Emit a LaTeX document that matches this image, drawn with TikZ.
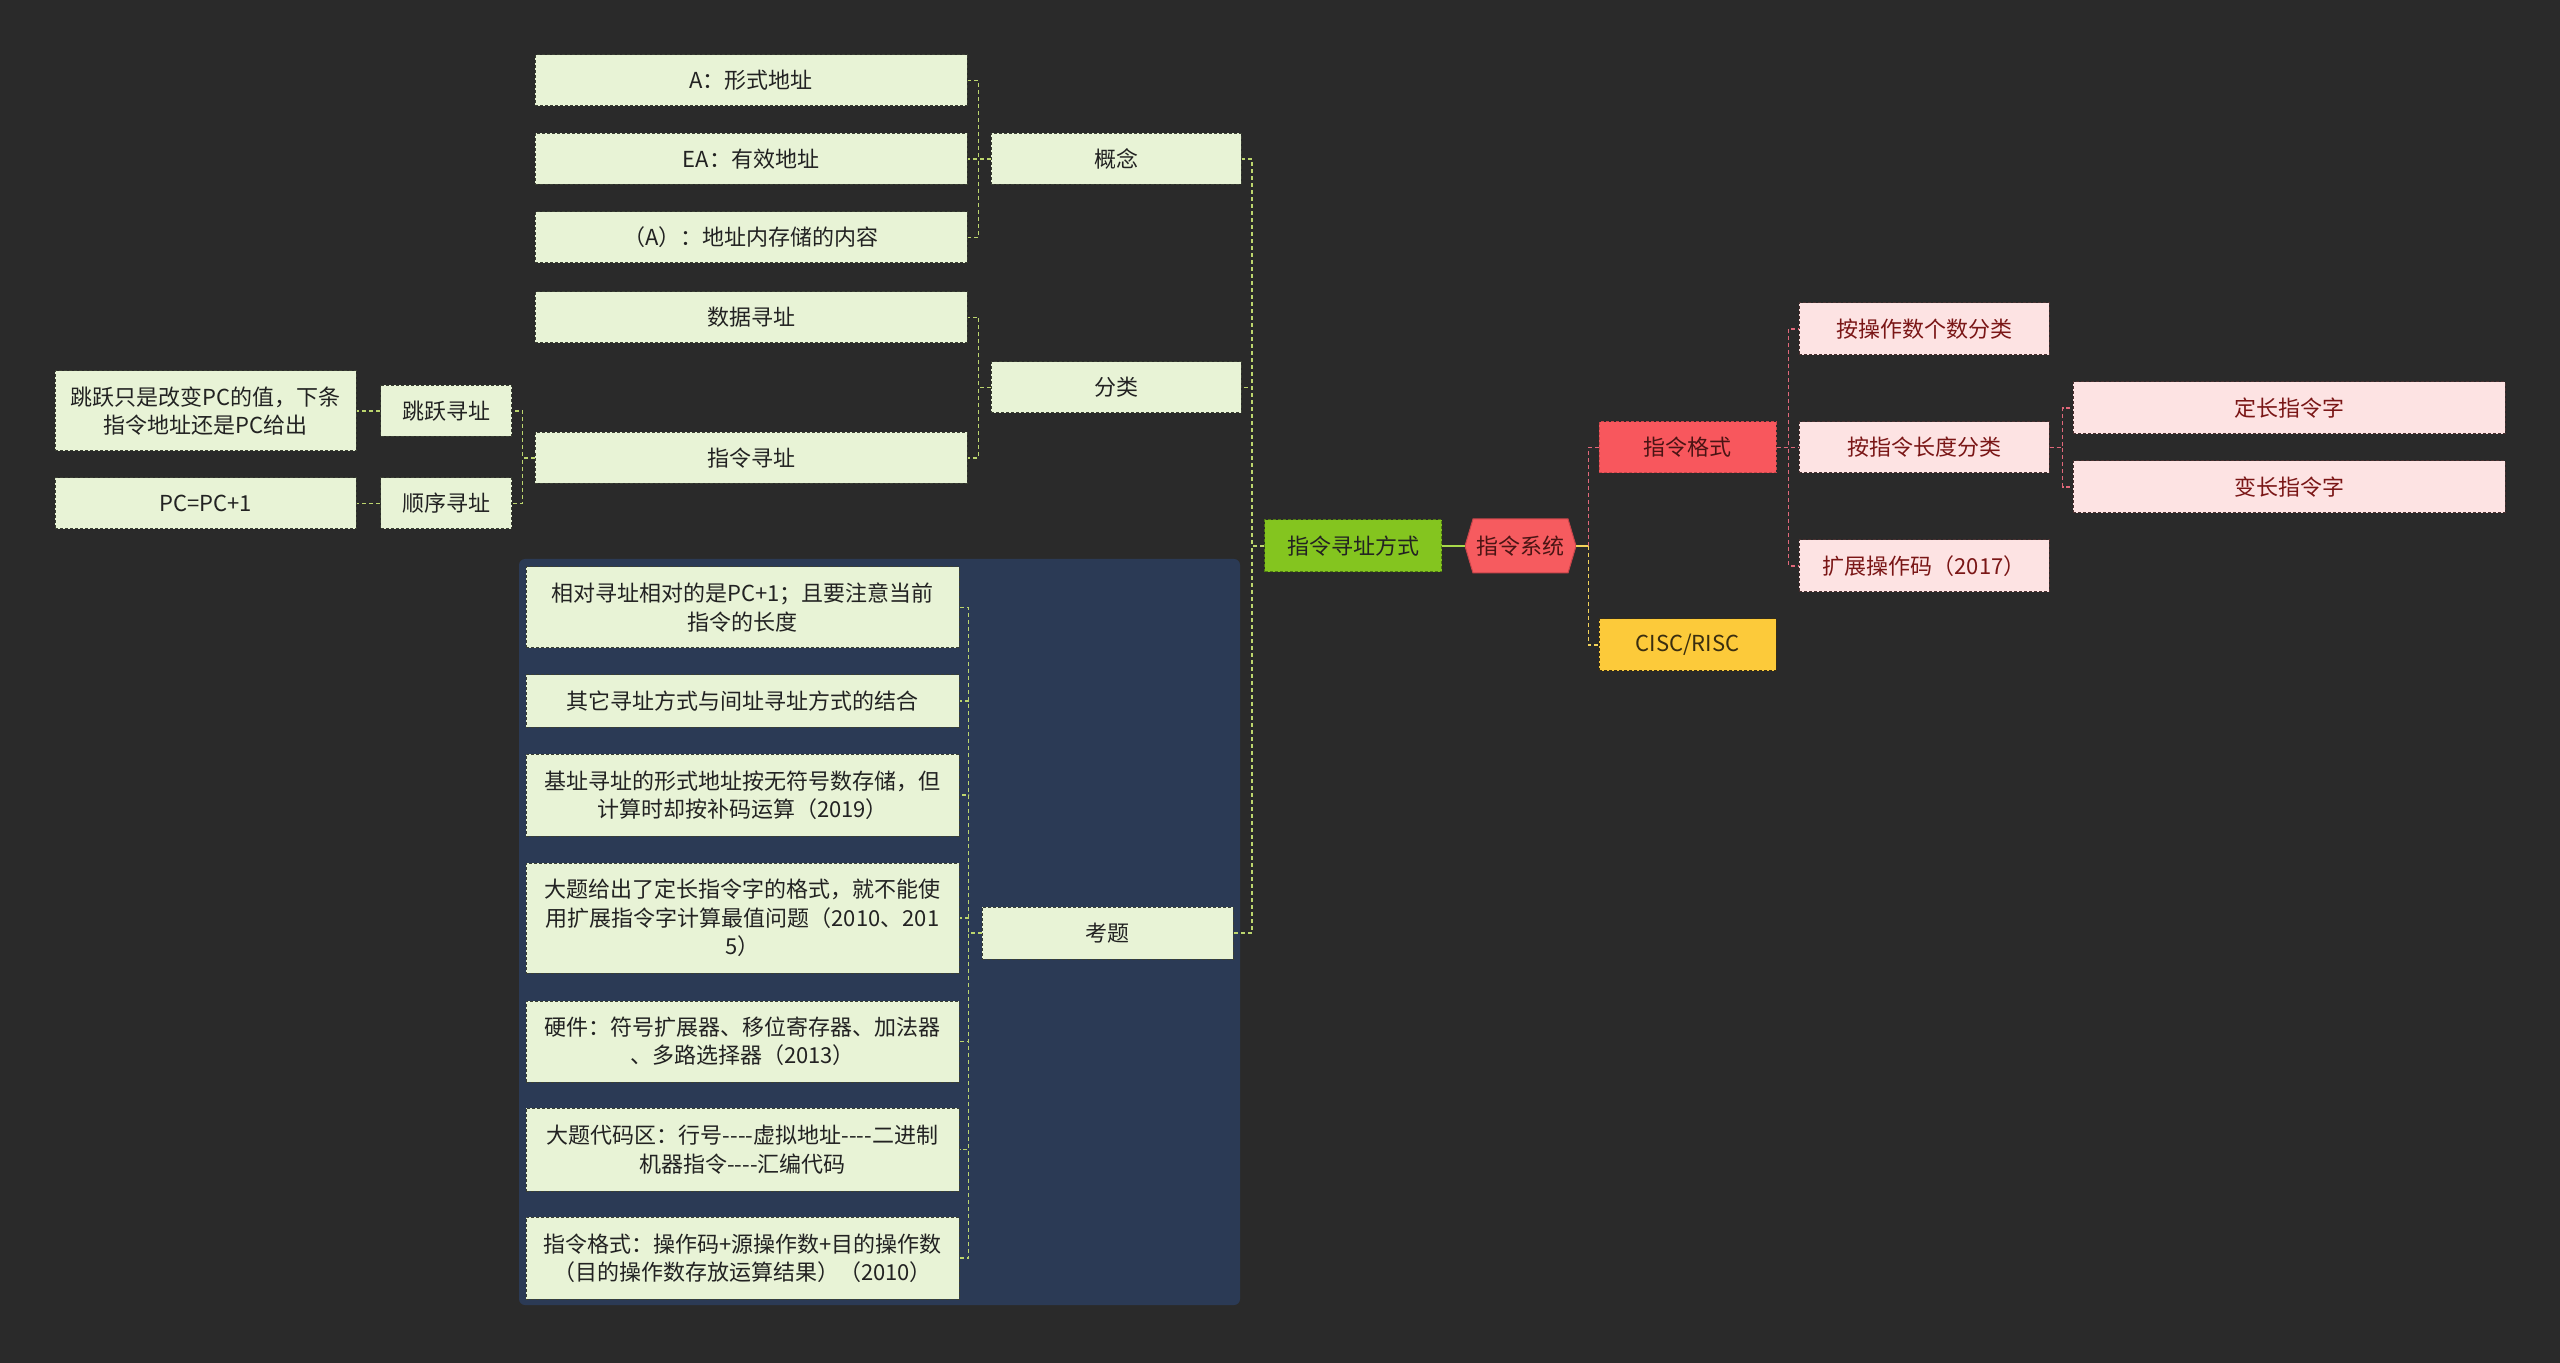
\documentclass[tikz,border=0pt]{standalone}
\usepackage{fontspec}
\setmainfont{Noto Sans CJK SC}
\usetikzlibrary{calc}
\definecolor{bgc}{HTML}{2A2A2A}
\definecolor{panelc}{HTML}{2B3A55}
\definecolor{gfill}{HTML}{E8F3D6}
\definecolor{gtext}{HTML}{222222}
\definecolor{gborder}{HTML}{3A3F33}
\definecolor{glink}{HTML}{BCD56E}
\definecolor{zlfill}{HTML}{84C51F}
\definecolor{zlborder}{HTML}{4E7A12}
\definecolor{rootfill}{HTML}{F65B5F}
\definecolor{rootborder}{HTML}{C8454A}
\definecolor{rootline}{HTML}{A8D94A}
\definecolor{redfill}{HTML}{F8575D}
\definecolor{redtext}{HTML}{4A1414}
\definecolor{redlink}{HTML}{E0687A}
\definecolor{yelfill}{HTML}{FCCA3A}
\definecolor{yeltext}{HTML}{3A2E10}
\definecolor{yellink}{HTML}{F2D35A}
\definecolor{pfill}{HTML}{FDE3E3}
\definecolor{ptext}{HTML}{7A1616}
\definecolor{pborder}{HTML}{4A3030}
\newcommand\fs{\fontsize{11pt}{14.2pt}\selectfont}
\newcommand\hy{\mbox{-}}
\tikzset{
  sz/.style 2 args={minimum width=#1*0.5pt, minimum height=#2*0.5pt},
  box/.style={draw=gborder, dash pattern=on 1.5pt off 1pt, line width=0.5pt,
    inner sep=0pt, align=center, font=\fs},
  gbox/.style={box, fill=gfill, text=gtext},
  greenbox/.style={box, fill=zlfill, draw=zlborder, text=gtext},
  redbox/.style={box, fill=redfill, draw=rootborder, text=redtext},
  yelbox/.style={box, fill=yelfill, draw=yeltext, text=yeltext},
  pbox/.style={box, fill=pfill, draw=pborder, text=ptext},
  rootnode/.style={inner sep=0pt, align=center, font=\fs, text=redtext},
  glinkstyle/.style={draw=glink, line width=0.7pt, dash pattern=on 2pt off 1.5pt},
  rlinkstyle/.style={draw=redlink, line width=0.7pt, dash pattern=on 2pt off 1.5pt},
  ylinkstyle/.style={draw=yellink, line width=0.7pt, dash pattern=on 2pt off 1.5pt},
}
\begin{document}
\begin{tikzpicture}[x=0.5pt,y=-0.5pt]
\useasboundingbox (0,0) rectangle (2560,1363);
\fill[bgc] (0,0) rectangle (2560,1363);
\fill[panelc, rounded corners=3pt] (519,559) rectangle (1240,1305);
% hexagon of root
\filldraw[fill=rootfill, draw=rootborder, line width=0.5pt]
  (1465,546) -- (1473,519) -- (1568,519) -- (1576,546) -- (1568,573) -- (1473,573) -- cycle;

% nodes
\node[gbox, sz={432}{51}] (a1) at (751,80.5) {A：形式地址};
\node[gbox, sz={432}{51}] (a2) at (751,159) {EA：有效地址};
\node[gbox, sz={432}{51}] (a3) at (751,237.5) {（A）：地址内存储的内容};
\node[gbox, sz={432}{51}] (b1) at (751,317.5) {数据寻址};
\node[gbox, sz={432}{51}] (b2) at (751,458) {指令寻址};
\node[gbox, sz={250}{51}] (gn) at (1116,159) {概念};
\node[gbox, sz={250}{51}] (fl) at (1116,387.5) {分类};
\node[gbox, sz={301}{80}] (jt) at (205.5,411) {跳跃只是改变PC的值，下条\\指令地址还是PC给出};
\node[gbox, sz={131}{51}] (jy) at (446,411) {跳跃寻址};
\node[gbox, sz={301}{51}] (pc) at (205.5,503.5) {PC=PC+1};
\node[gbox, sz={131}{51}] (sx) at (446,503.5) {顺序寻址};
\node[greenbox, sz={177}{52}] (zl) at (1353,546) {指令寻址方式};
\node[rootnode, sz={111}{54}] (root) at (1520.5,546) {指令系统};
\node[redbox, sz={177}{51}] (gs) at (1687.5,447.5) {指令格式};
\node[yelbox, sz={177}{52}] (cisc) at (1687.5,645) {CISC/RISC};
\node[pbox, sz={250}{52}] (p1) at (1924,329) {按操作数个数分类};
\node[pbox, sz={250}{51}] (p2) at (1924,447.5) {按指令长度分类};
\node[pbox, sz={250}{52}] (p3) at (1924,566) {扩展操作码（2017）};
\node[pbox, sz={432}{52}] (q1) at (2289,408) {定长指令字};
\node[pbox, sz={432}{52}] (q2) at (2289,487) {变长指令字};
\node[gbox, sz={251}{52}] (kt) at (1107.5,933) {考题};
\node[gbox, sz={433}{81}] (e1) at (742.5,607.5) {相对寻址相对的是PC+1；且要注意当前\\指令的长度};
\node[gbox, sz={433}{52}] (e2) at (742.5,701) {其它寻址方式与间址寻址方式的结合};
\node[gbox, sz={433}{82}] (e3) at (742.5,795) {基址寻址的形式地址按无符号数存储，但\\计算时却按补码运算（2019）};
\node[gbox, sz={433}{110}] (e4) at (742.5,918) {大题给出了定长指令字的格式，就不能使\\用扩展指令字计算最值问题（2010、201\\5）};
\node[gbox, sz={433}{81}] (e5) at (742.5,1041.5) {硬件：符号扩展器、移位寄存器、加法器\\、多路选择器（2013）};
\node[gbox, sz={433}{83}] (e6) at (742.5,1149.5) {大题代码区：行号\hy\hy\hy\hy 虚拟地址\hy\hy\hy\hy 二进制\\机器指令\hy\hy\hy\hy 汇编代码};
\node[gbox, sz={433}{82}] (e7) at (742.5,1258) {指令格式：操作码+源操作数+目的操作数\\（目的操作数存放运算结果）（2010）};

% connectors, left side
\foreach \c in {gn,fl,kt}
  \draw[glinkstyle] (zl.west) -- ++(-12,0) |- (\c.east);
\foreach \c in {a1,a2,a3}
  \draw[glinkstyle] (gn.west) -- ++(-12,0) |- (\c.east);
\foreach \c in {b1,b2}
  \draw[glinkstyle] (fl.west) -- ++(-12,0) |- (\c.east);
\foreach \c in {jy,sx}
  \draw[glinkstyle] (b2.west) -- ++(-12,0) |- (\c.east);
\draw[glinkstyle] (jy.west) -- (jt.east);
\draw[glinkstyle] (sx.west) -- (pc.east);
\foreach \c in {e1,e2,e3,e4,e5,e6,e7}
  \draw[glinkstyle] (kt.west) -- ++(-13,0) |- (\c.east);

% root connectors
\draw[rootline, line width=0.9pt] (root.west) -- (zl.east);
\draw[yellink, line width=0.9pt] (root.east) -- ++(12,0) coordinate (rj);
\draw[rlinkstyle] (rj) |- (gs.west);
\draw[ylinkstyle] (rj) |- (cisc.west);
\foreach \c in {p1,p2,p3}
  \draw[rlinkstyle] (gs.east) -- ++(12,0) |- (\c.west);
\foreach \c in {q1,q2}
  \draw[rlinkstyle] (p2.east) -- ++(13,0) |- (\c.west);
\end{tikzpicture}
\end{document}
